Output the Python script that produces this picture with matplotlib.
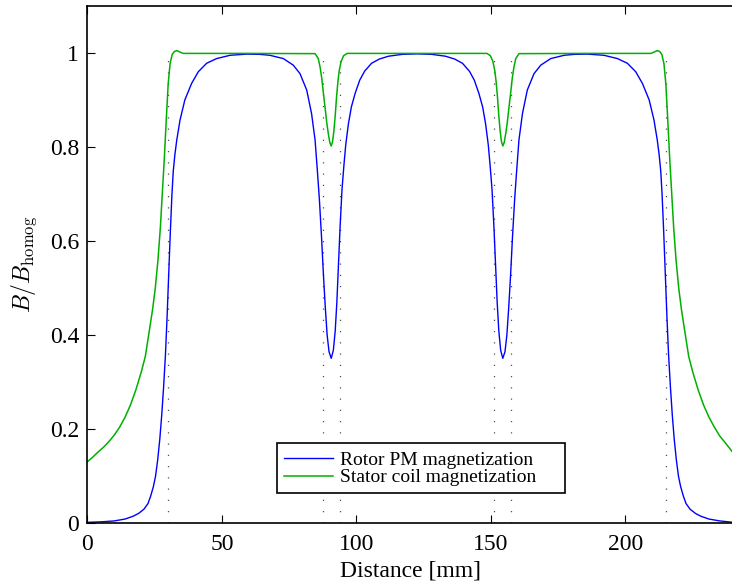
import matplotlib
matplotlib.use('Agg')
import matplotlib.pyplot as plt
from matplotlib.patches import Rectangle

# values
rotor_x = [0, 5, 10, 14, 17, 19, 21, 22.5, 23.5, 24.5, 25.3, 26.1, 26.9, 27.6, 28.3, 29, 29.6,
           30.2, 30.8, 31.4, 31.9, 32.5, 33.2, 34.4, 36.2, 38.7, 41.2, 44.3, 48, 53, 59.2, 64,
           67.8, 72.8, 76.5, 79, 81.5, 83.3, 84.6, 85.4, 86.2, 87, 87.7, 88.4, 89.1, 89.8, 90.6,
           91.4, 92.1, 92.7, 93.3, 93.9, 94.6, 95.3, 96, 97, 98.1, 99.5, 101.2, 103, 105.6,
           108.5, 111.9, 117, 122.5,
           128, 133.1, 136.5, 139.4, 142, 143.8, 145.5, 146.9, 148, 149, 149.7, 150.4, 151.1,
           151.7, 152.3, 152.9, 153.6, 154.4, 155.2, 155.9, 156.6, 157.3, 158, 158.8, 159.6,
           160.4, 161.7, 163.5, 166, 168.5, 172.2, 177.2, 181, 185.8, 192, 197, 200.7, 203.8,
           206.3, 208.8, 210.6, 211.8, 212.5, 213.1, 213.6, 214.2, 214.8, 215.4, 216, 216.7,
           217.4, 218.1, 218.9, 219.7, 220.5, 221.5, 222.5, 224, 226, 228, 231, 235, 240]
rotor_b = [0.002, 0.003, 0.005, 0.009, 0.015, 0.021, 0.030, 0.042, 0.058, 0.078, 0.100, 0.135,
           0.18, 0.23, 0.29, 0.36, 0.44, 0.53, 0.62, 0.70, 0.75, 0.785, 0.816, 0.858, 0.901,
           0.936, 0.961, 0.979, 0.989, 0.996, 0.9985, 0.998, 0.996, 0.989, 0.975, 0.957, 0.922,
           0.872, 0.816, 0.755, 0.69, 0.61, 0.53, 0.46, 0.40, 0.365, 0.351, 0.368, 0.41, 0.47,
           0.55, 0.63, 0.709, 0.76, 0.805, 0.85, 0.886, 0.915, 0.943, 0.962, 0.979, 0.988,
           0.994, 0.998, 0.999,
           0.998, 0.994, 0.988, 0.979, 0.962, 0.943, 0.915, 0.886, 0.85, 0.805, 0.76, 0.709,
           0.63, 0.55, 0.47, 0.41, 0.368, 0.351, 0.365, 0.40, 0.46, 0.53, 0.61, 0.69, 0.755,
           0.816, 0.872, 0.922, 0.957, 0.975, 0.989, 0.996, 0.998, 0.9985, 0.996, 0.989, 0.979,
           0.961, 0.936, 0.901, 0.858, 0.816, 0.785, 0.75, 0.70, 0.62, 0.53, 0.44, 0.36, 0.29,
           0.23, 0.18, 0.135, 0.100, 0.078, 0.058, 0.042, 0.030, 0.021, 0.015, 0.009, 0.005,
           0.002]

stator_x = [0, 2, 4, 6, 8, 10, 12, 14, 16, 18, 20, 21.5, 23, 24.2, 25.2, 26.2, 27.1, 27.9, 28.6,
            29.3, 30, 30.7, 31.5, 32.3, 33.2, 34.3, 35.6, 60, 84.6, 85.8, 86.5, 87.1, 87.7, 88.3,
            88.9, 89.5, 90.1, 90.6, 91.1, 91.6, 92.1, 92.6, 93.1, 93.6, 94.3, 95.2, 96.5, 122.5,
            148.5, 149.8, 150.7, 151.4, 151.9, 152.4, 152.9, 153.4, 153.9, 154.4, 154.9, 155.5,
            156.1, 156.7, 157.3, 157.9, 158.5, 159.2, 160.4, 185, 209.4, 210.7, 211.8, 212.7,
            213.5, 214.3, 215, 215.7, 216.4, 217.1, 217.9, 218.8, 219.8, 220.8, 222, 223.5, 225,
            227, 229, 231, 233, 235, 237, 240]
stator_b = [0.131, 0.141, 0.152, 0.162, 0.174, 0.188, 0.205, 0.226, 0.252, 0.284, 0.322, 0.355,
            0.41, 0.455, 0.50, 0.56, 0.63, 0.71, 0.78, 0.86, 0.935, 0.978, 0.998, 1.004, 1.006,
            1.003, 1.0, 1.0, 0.9995, 0.989, 0.97, 0.947, 0.915, 0.886, 0.855, 0.830, 0.810, 0.803,
            0.812, 0.835, 0.868, 0.908, 0.94, 0.964, 0.983, 0.995, 1.0, 1.0,
            1.0, 0.995, 0.983, 0.964, 0.94, 0.908, 0.868, 0.835, 0.812, 0.803, 0.810, 0.830,
            0.855, 0.886, 0.915, 0.947, 0.97, 0.989, 0.9995, 1.0, 1.0, 1.003, 1.006, 1.004,
            0.998, 0.978, 0.935, 0.86, 0.78, 0.71, 0.63, 0.56, 0.50, 0.455, 0.41, 0.355, 0.322,
            0.284, 0.252, 0.226, 0.205, 0.186, 0.172, 0.150]

edges = [30, 87.5, 93.75, 151.25, 157.5, 215]

plt.rcParams['font.family'] = ['Liberation Serif', 'DejaVu Serif']
plt.rcParams['mathtext.fontset'] = 'cm'

fig = plt.figure(figsize=(7.32, 5.84), dpi=100)
ax = fig.add_axes([0.1195, 0.104, 0.882, 0.885])

for e in edges:
    ax.plot([e, e], [0, 1], color='#505050', linewidth=0.9, dashes=(1, 8))
ax.plot(rotor_x, rotor_b, color='#0000ff', linewidth=1.0, label='Rotor PM magnetization')
ax.plot(stator_x, stator_b, color='#00b000', linewidth=1.1, label='Stator coil magnetization')

ax.set_xlim(0, 240)
ax.set_ylim(0, 1.1)
ax.set_xticks([0, 50, 100, 150, 200])
ax.set_yticks([0, 0.2, 0.4, 0.6, 0.8, 1])
ax.set_yticklabels(['0', '0.2', '0.4', '0.6', '0.8', '1'])
ax.tick_params(direction='in', length=6, width=0.8, labelsize=17, top=True, right=False)
ax.tick_params(axis='x', pad=8)
ax.tick_params(axis='y', pad=6)
for s in ax.spines.values():
    s.set_linewidth(1.2)

ax.set_xlabel('Distance [mm]', fontsize=17, labelpad=4)
ax.set_ylabel(r'$B/B_{\rm homog}$', fontsize=17, labelpad=8)

# matlab style legend box, wider than the text
box = Rectangle((0.294, 0.058), 0.446, 0.097, transform=ax.transAxes, facecolor='white',
                edgecolor='black', linewidth=1.2, zorder=4)
ax.add_patch(box)
leg = ax.legend(loc='lower left', bbox_to_anchor=(0.294, 0.058), fontsize=14, handlelength=2.5,
                frameon=False, borderpad=0.35, labelspacing=0.0, handletextpad=0.35,
                borderaxespad=0)
leg.set_zorder(5)

fig.savefig('out.png', dpi=100)
